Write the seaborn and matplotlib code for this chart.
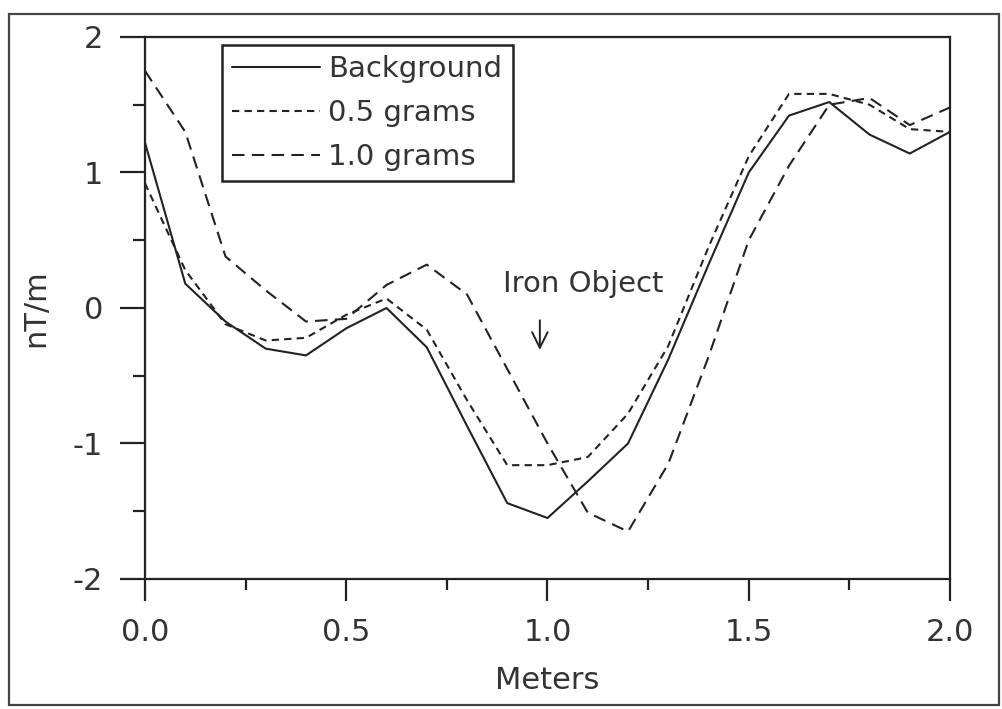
import numpy as np
import pandas as pd
import matplotlib
matplotlib.use("Agg")
import matplotlib.pyplot as plt
from matplotlib.lines import Line2D
from matplotlib.patches import Rectangle
import seaborn as sns

# ---- data ----
meters = [0.0, 0.1, 0.2, 0.3, 0.4, 0.5, 0.6, 0.7, 0.8, 0.9, 1.0,
          1.1, 1.2, 1.3, 1.4, 1.5, 1.6, 1.7, 1.8, 1.9, 2.0]
background = [1.22, 0.18, -0.10, -0.30, -0.35, -0.15, 0.00, -0.29, -0.87, -1.44, -1.55,
              -1.28, -1.00, -0.38, 0.32, 1.00, 1.42, 1.52, 1.28, 1.14, 1.30]
half_gram = [0.92, 0.28, -0.12, -0.24, -0.22, -0.05, 0.07, -0.16, -0.68, -1.16, -1.16,
             -1.10, -0.78, -0.28, 0.45, 1.12, 1.58, 1.58, 1.50, 1.32, 1.30]
one_gram = [1.75, 1.30, 0.38, 0.13, -0.10, -0.08, 0.17, 0.32, 0.10, -0.45, -1.00,
            -1.51, -1.65, -1.15, -0.36, 0.50, 1.05, 1.50, 1.55, 1.35, 1.48]
series_names = ["Background", "0.5 grams", "1.0 grams"]
x_tick_labels = ["0.0", "0.5", "1.0", "1.5", "2.0"]
y_tick_labels = ["-2", "-1", "0", "1", "2"]

df = pd.concat([
    pd.DataFrame({"Meters": meters, "nT/m": vals, "series": name})
    for name, vals in zip(series_names, [background, half_gram, one_gram])
], ignore_index=True)

dash_map = {"Background": "", "0.5 grams": (3.5, 2.5), "1.0 grams": (6, 3.5)}

sns.set_style("ticks")
plt.rcParams["font.family"] = ["DejaVu Sans"]

INK = "#222222"
fig = plt.figure(figsize=(10.03, 7.09), dpi=100)
ax = fig.add_axes([145 / 1003, 1 - 579 / 709, (950 - 145) / 1003, (579 - 37) / 709])

sns.lineplot(data=df, x="Meters", y="nT/m", style="series", style_order=series_names,
             dashes=dash_map, color=INK, linewidth=1.5, estimator=None, sort=False,
             legend=False, ax=ax)

ax.set_xlim(0, 2)
ax.set_ylim(-2, 2)
ax.set_xticks([0, 0.5, 1.0, 1.5, 2.0])
ax.set_xticklabels(x_tick_labels)
ax.set_xticks([0.25, 0.75, 1.25, 1.75], minor=True)
ax.set_yticks([-2, -1, 0, 1, 2])
ax.set_yticklabels(y_tick_labels)
ax.set_yticks([-1.5, -0.5, 0.5, 1.5], minor=True)

for s in ax.spines.values():
    s.set_visible(True)
    s.set_linewidth(1.6)
    s.set_color(INK)

ax.tick_params(axis="both", which="major", direction="out", width=1.6, color=INK,
               labelsize=22, labelcolor="#333333")
ax.tick_params(axis="y", which="major", length=18, pad=12)
ax.tick_params(axis="y", which="minor", length=9, width=1.6, color=INK, direction="out")
ax.tick_params(axis="x", which="major", length=16, pad=12)
ax.tick_params(axis="x", which="minor", length=8, width=1.6, color=INK, direction="out")

ax.set_xlabel("Meters", fontsize=22, color="#333333", labelpad=14)
ax.set_ylabel("nT/m", fontsize=22, color="#333333", labelpad=16)

# annotation
ax.annotate("", xy=(0.981, -0.33), xytext=(0.981, -0.07),
            arrowprops=dict(arrowstyle="->", color=INK, lw=1.4, mutation_scale=28))
ax.text(1.088, 0.18, "Iron Object", fontsize=21, color="#333333", ha="center", va="center")

# legend
handles = [Line2D([], [], color=INK, lw=1.5,
                  linestyle="-" if dash_map[n] == "" else (0, dash_map[n]))
           for n in series_names]
leg = ax.legend(handles, series_names, loc="upper left",
                bbox_to_anchor=((222 - 145) / 805, (579 - 45) / 542),
                borderaxespad=0, fontsize=21, handlelength=3.0, handletextpad=0.3,
                labelspacing=0.55, borderpad=0.35, fancybox=False, framealpha=1,
                edgecolor=INK)
leg.get_frame().set_linewidth(1.8)
for t in leg.get_texts():
    t.set_color("#333333")

# outer frame of the scanned figure
fig.patches.append(Rectangle((9 / 1003, 4 / 709), (999 - 9) / 1003, (705 - 14) / 709,
                             transform=fig.transFigure, fill=False, edgecolor="#444444",
                             linewidth=1.6))

fig.savefig("out.png", dpi=100)
